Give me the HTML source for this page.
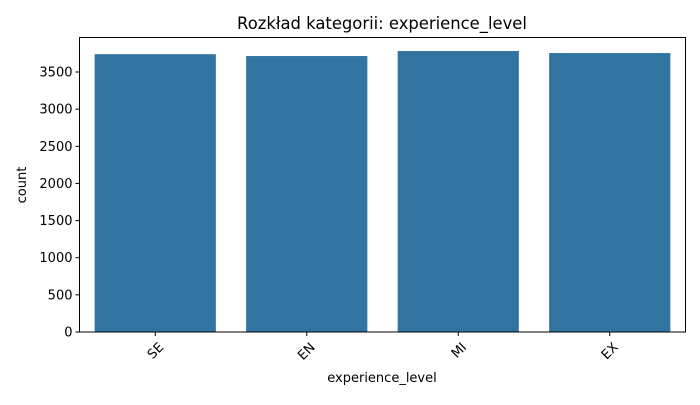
<!DOCTYPE html>
<html><head><meta charset="utf-8"><style>
body{margin:0;background:#fff}
svg{font-family:"DejaVu Sans","Liberation Sans",sans-serif}
</style></head><body>
<svg id="chart" width="700" height="400">
<text x="382" y="29" text-anchor="middle" font-size="16.4">Rozkład kategorii: experience_level</text>
<text x="382" y="382" text-anchor="middle" font-size="13">experience_level</text>
<text transform="translate(26,185) rotate(-90)" text-anchor="middle" font-size="13">count</text>
<g id="bars"></g><g id="yticks"></g><g id="xticks"></g>
<rect x="79.5" y="37.5" width="606" height="294.5" fill="none" stroke="#000" stroke-width="1"/>
</svg>
<script>
const categories = ["SE","EN","MI","EX"];
const counts = [3740, 3715, 3782, 3755];
const yTickValues = [0,500,1000,1500,2000,2500,3000,3500];
const L=79.5,R=685.5,T=37.5,B=332;
const y = v => B - v*(260/3500);
const band = (R-L)/categories.length;
const xc = i => L + band*(i+0.5);
const NS="http://www.w3.org/2000/svg";
const mk=(t,a,p)=>{const e=document.createElementNS(NS,t);for(const k in a)e.setAttribute(k,a[k]);p.appendChild(e);return e;};
const gb=document.getElementById('bars'),gy=document.getElementById('yticks'),gx=document.getElementById('xticks');
categories.forEach((c,i)=>{
  const r=mk('rect',{x:xc(i)-band*0.4,y:y(counts[i]),width:band*0.8,height:B-y(counts[i]),fill:'#3274a1'},gb);
  
  
  const tk=mk('line',{x1:xc(i),x2:xc(i),y1:B,y2:B+4,stroke:'#000'},gx);
  
  
  const t=mk('text',{transform:`translate(${xc(i)+9},${B+16}) rotate(-45)`,'text-anchor':'end','font-size':'13'},gx);
  t.textContent=c;
  
  
});
yTickValues.forEach(v=>{
  const tk=mk('line',{x1:L-4,x2:L,y1:y(v),y2:y(v),stroke:'#000'},gy);
  
  
  const t=mk('text',{x:L-7,y:y(v)+4.5,'text-anchor':'end','font-size':'13'},gy);
  t.textContent=v;
  
  
});
</script>
</body></html>
